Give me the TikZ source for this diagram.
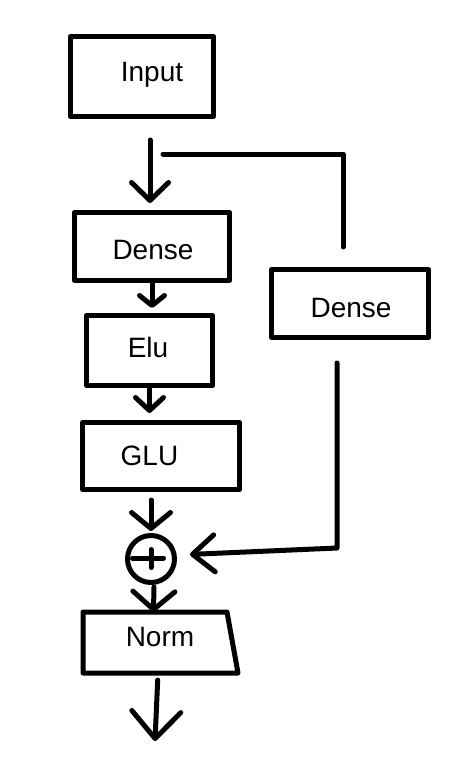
\documentclass[tikz,border=0pt]{standalone}
\usepackage{fontspec}
\setmainfont{Liberation Sans}
\usetikzlibrary{arrows.meta}
\begin{document}
\begin{tikzpicture}[x=1pt,y=-1pt,
  line width=5pt, line cap=round, line join=round,
  box/.style={draw, rectangle, inner sep=0pt},
  txt/.style={font=\fontsize{28}{34}\selectfont, inner sep=0pt, text height=20pt, text depth=0pt},
  vhead/.style 2 args={-{Straight Barb[round,length=#1pt,width=#2pt]}}
]
\useasboundingbox (0,0) rectangle (448,782);

% boxes
\node[box, minimum width=143pt, minimum height=80pt,
  label={[txt,xshift=10pt,yshift=5.5pt]center:Input}] (input) at (142,76.5) {};
\node[box, minimum width=155pt, minimum height=68pt,
  label={[txt,xshift=1pt,yshift=-2.5pt]center:Dense}] (dense1) at (152,246.5) {};
\node[box, minimum width=126pt, minimum height=70pt,
  label={[txt,xshift=-1.5pt,yshift=3.5pt]center:Elu}] (elu) at (149.5,350.5) {};
\node[box, minimum width=157pt, minimum height=67pt,
  label={[txt,xshift=-11.5pt,yshift=1pt]center:GLU}] (glu) at (161,456) {};
\node[box, minimum width=157pt, minimum height=68pt,
  label={[txt,xshift=1pt,yshift=-3.5pt]center:Dense}] (dense2) at (350,303.5) {};
\node[draw, circle, minimum size=47pt, inner sep=0pt] (oplus) at (151,559) {};
\node[rectangle, minimum width=150pt, minimum height=56pt, inner sep=0pt,
  label={[txt,xshift=-0.5pt,yshift=6.5pt]center:Norm}] (norm) at (160.5,642.5) {};
% trapezium outline of the Norm block (right side slanted)
\draw (norm.north west) -- ([xshift=-11pt]norm.north east)
  -- (norm.south east) -- (norm.south west) -- cycle;

% plus sign inside the circle
\draw (oplus.center) ++(-18.5,-1) -- ++(31,0);
\draw (oplus.center) ++(0,-9.5) -- ++(0,18);

% helper coordinates
\coordinate (b1) at (163,154);
\coordinate (c2) at (337,548);
\coordinate (out) at (155,741);

% main chain
\draw[vhead={18}{37}, shorten <=21pt, shorten >=7pt]
  ([xshift=8pt]input.south) -- ([xshift=-2pt]dense1.north);
\draw[vhead={10}{25}, shorten >=5pt]
  (dense1.south) -- (dense1.south |- elu.north);
\draw[vhead={13}{28}, shorten >=7pt]
  (elu.south) -- (elu.south |- glu.north);
\draw[vhead={16}{39}, shorten <=8pt, shorten >=2pt]
  (glu.south -| oplus.north) -- (oplus.north);
\draw[vhead={18}{42}, shorten <=2pt, shorten >=0pt]
  ([xshift=3pt]oplus.south) -- ([xshift=-7pt]norm.north);
\draw[vhead={27}{49}, shorten <=7pt]
  ([xshift=3pt]out |- norm.south) -- (out);

% side branch
\draw[shorten >=20pt] (b1) -| ([xshift=-7pt]dense2.north);
\draw[vhead={22}{37}, shorten >=13pt]
  (c2 |- dense2.south) ++(0,23) -- (c2) -- ([yshift=4pt]oplus.east);
\end{tikzpicture}
\end{document}
